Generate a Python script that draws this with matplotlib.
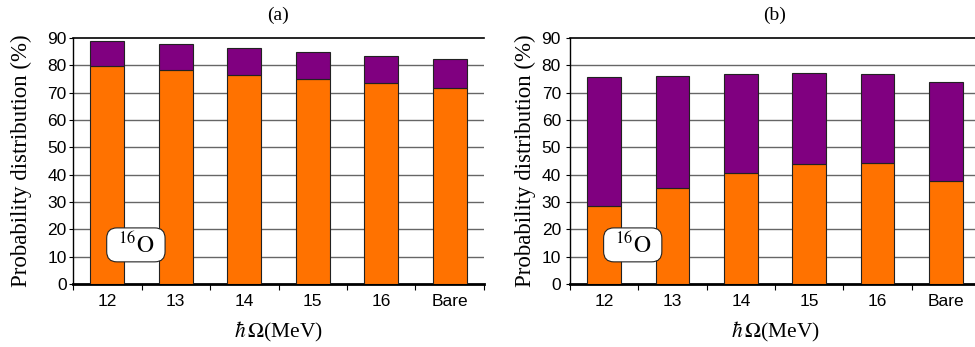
import matplotlib.pyplot as plt
from matplotlib.patches import FancyBboxPatch
from matplotlib.ticker import FixedLocator, NullFormatter
import numpy as np

plt.rcParams['mathtext.fontset'] = 'stix'

categories = ['12', '13', '14', '15', '16', 'Bare']
yticks = [0, 10, 20, 30, 40, 50, 60, 70, 80, 90]

# panel (a): lower component and total
lower_a = [79.7, 78.3, 76.6, 75.0, 73.5, 71.8]
total_a = [89.0, 87.8, 86.3, 84.9, 83.4, 82.3]

# panel (b)
lower_b = [28.5, 35.2, 40.7, 43.9, 44.4, 37.8]
total_b = [75.6, 76.2, 76.8, 77.2, 76.8, 73.9]

orange = '#ff7200'
purple = '#800080'
serif = 'Liberation Serif'
sans = 'Liberation Sans'

fig = plt.figure(figsize=(9.75, 3.47), dpi=100)
ax_a = fig.add_axes([73/975, 63/347, 411/975, 246/347])
ax_b = fig.add_axes([570/975, 63/347, 410/975, 246/347])


def draw_panel(ax, lower, total, title, tickpad, ylabpad):
    x = np.arange(len(categories))
    upper = np.array(total) - np.array(lower)
    ax.bar(x, lower, width=0.49, color=orange, edgecolor='#222222', linewidth=0.8, zorder=3)
    ax.bar(x, upper, width=0.49, bottom=lower, color=purple, edgecolor='#222222', linewidth=0.8, zorder=3)

    ax.set_xlim(-0.5, len(categories) - 0.5)
    ax.set_ylim(0, 90)

    # horizontal grid, top line drawn in black
    for yv in yticks[1:-1]:
        ax.axhline(yv, color='#666666', linewidth=1.0, zorder=1)
    ax.axhline(90, color='black', linewidth=1.2, zorder=1, clip_on=False)

    for side in ['top', 'right']:
        ax.spines[side].set_visible(False)
    ax.spines['left'].set_linewidth(1.0)
    ax.spines['bottom'].set_linewidth(2.0)

    ax.set_yticks(yticks)
    ax.set_yticklabels([str(v) for v in yticks], fontfamily=sans, fontsize=12.5)
    ax.tick_params(axis='y', length=3, width=0.8, pad=tickpad)

    ax.set_xticks(x)
    ax.set_xticklabels(categories, fontfamily=sans, fontsize=12.5)
    ax.tick_params(axis='x', which='major', length=0, pad=7)
    ax.xaxis.set_minor_locator(FixedLocator(np.arange(-0.5, len(categories), 1.0)))
    ax.xaxis.set_minor_formatter(NullFormatter())
    ax.tick_params(axis='x', which='minor', length=4, width=0.8)

    ax.set_ylabel('Probability distribution (%)', fontfamily=serif, fontsize=16.5, labelpad=ylabpad)
    ax.set_xlabel(r'$\hbar\,\Omega$(MeV)', fontfamily=serif, fontsize=15.5, labelpad=8)
    ax.set_title(title, fontfamily=serif, fontsize=14, pad=13)

    # nucleus label in a rounded box
    aspect = ax.bbox.width / ax.bbox.height
    box = FancyBboxPatch((0.082, 0.09), 0.142, 0.138, transform=ax.transAxes,
                         boxstyle='round,pad=0,rounding_size=0.025', mutation_aspect=aspect,
                         facecolor='white', edgecolor='#222222', linewidth=0.8, zorder=5)
    ax.add_patch(box)
    ax.text(0.153, 0.157, r'$^{16}\mathrm{O}$', transform=ax.transAxes, fontsize=17,
            ha='center', va='center', zorder=6)


draw_panel(ax_a, lower_a, total_a, '(a)', 1.5, 11)
draw_panel(ax_b, lower_b, total_b, '(b)', 3.5, 4)

fig.savefig('out.png', dpi=100)
